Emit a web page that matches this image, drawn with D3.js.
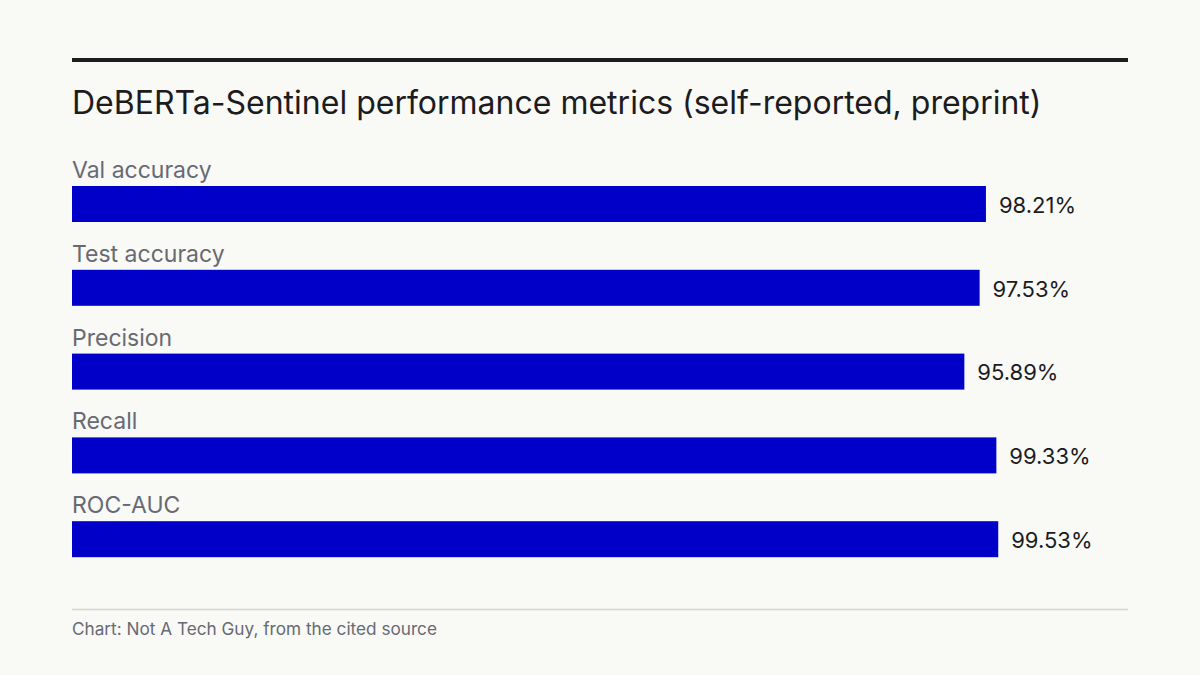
<!DOCTYPE html>
<html lang="en">
<head>
<meta charset="UTF-8">
<title>DeBERTa-Sentinel performance metrics</title>
<style>
  body { margin: 0; padding: 0; background: #f9f9f6; }
  svg { display: block; font-family: Inter, "Noto Sans", sans-serif; }
</style>
</head>
<body>
<svg id="chart"></svg>
<script src="https://d3js.org/d3.v7.min.js"></script>
<script>
// data
const metrics = ["Val accuracy", "Test accuracy", "Precision", "Recall", "ROC-AUC"];
const values = [98.21, 97.53, 95.89, 99.33, 99.53];

const width = 1200;
const height = 675;
const left = 72;
const right = 1128;

const svg = d3.select("#chart")
    .attr("width", width)
    .attr("height", height);

svg.append("rect")
    .attr("width", width)
    .attr("height", height)
    .attr("fill", "#f9f9f6");

// top rule + title
svg.append("rect")
    .attr("x", left).attr("y", 58)
    .attr("width", right - left).attr("height", 4)
    .attr("fill", "#1c1c1f");

svg.append("text")
    .attr("x", left).attr("y", 114)
    .attr("font-size", 32)
    .attr("fill", "#1c1c1f")
    .text("DeBERTa-Sentinel performance metrics (self-reported, preprint)");

const x = d3.scaleLinear()
    .domain([0, 100])
    .range([left, 1002.6]);

const y = d3.scaleBand()
    .domain(metrics)
    .range([150, 569])
    .paddingInner(0);

const barH = 36;

const rows = svg.append("g")
    .selectAll("g")
    .data(metrics)
    .join("g")
    .attr("transform", d => `translate(0,${y(d)})`);

rows.append("text")
    .attr("x", left)
    .attr("y", 28)
    .attr("font-size", 23)
    .attr("fill", "#676a73")
    .text(d => d);

rows.append("rect")
    .attr("x", x(0))
    .attr("y", 36)
    .attr("height", barH)
    .attr("width", (d, i) => x(values[i]) - x(0))
    .attr("fill", "#0000c8");

rows.append("text")
    .attr("x", (d, i) => x(values[i]) + 13)
    .attr("y", 36 + barH / 2)
    .attr("dy", "0.4em")
    .attr("font-size", 22)
    .attr("fill", "#1c1c1f")
    .text((d, i) => values[i].toFixed(2) + "%");

// footer
svg.append("line")
    .attr("x1", left).attr("x2", right)
    .attr("y1", 609.5).attr("y2", 609.5)
    .attr("stroke", "#d4d4d0")
    .attr("stroke-width", 1.5);

svg.append("text")
    .attr("x", left).attr("y", 635)
    .attr("font-size", 17.2)
    .attr("fill", "#676a73")
    .text("Chart: Not A Tech Guy, from the cited source");
</script>
</body>
</html>
